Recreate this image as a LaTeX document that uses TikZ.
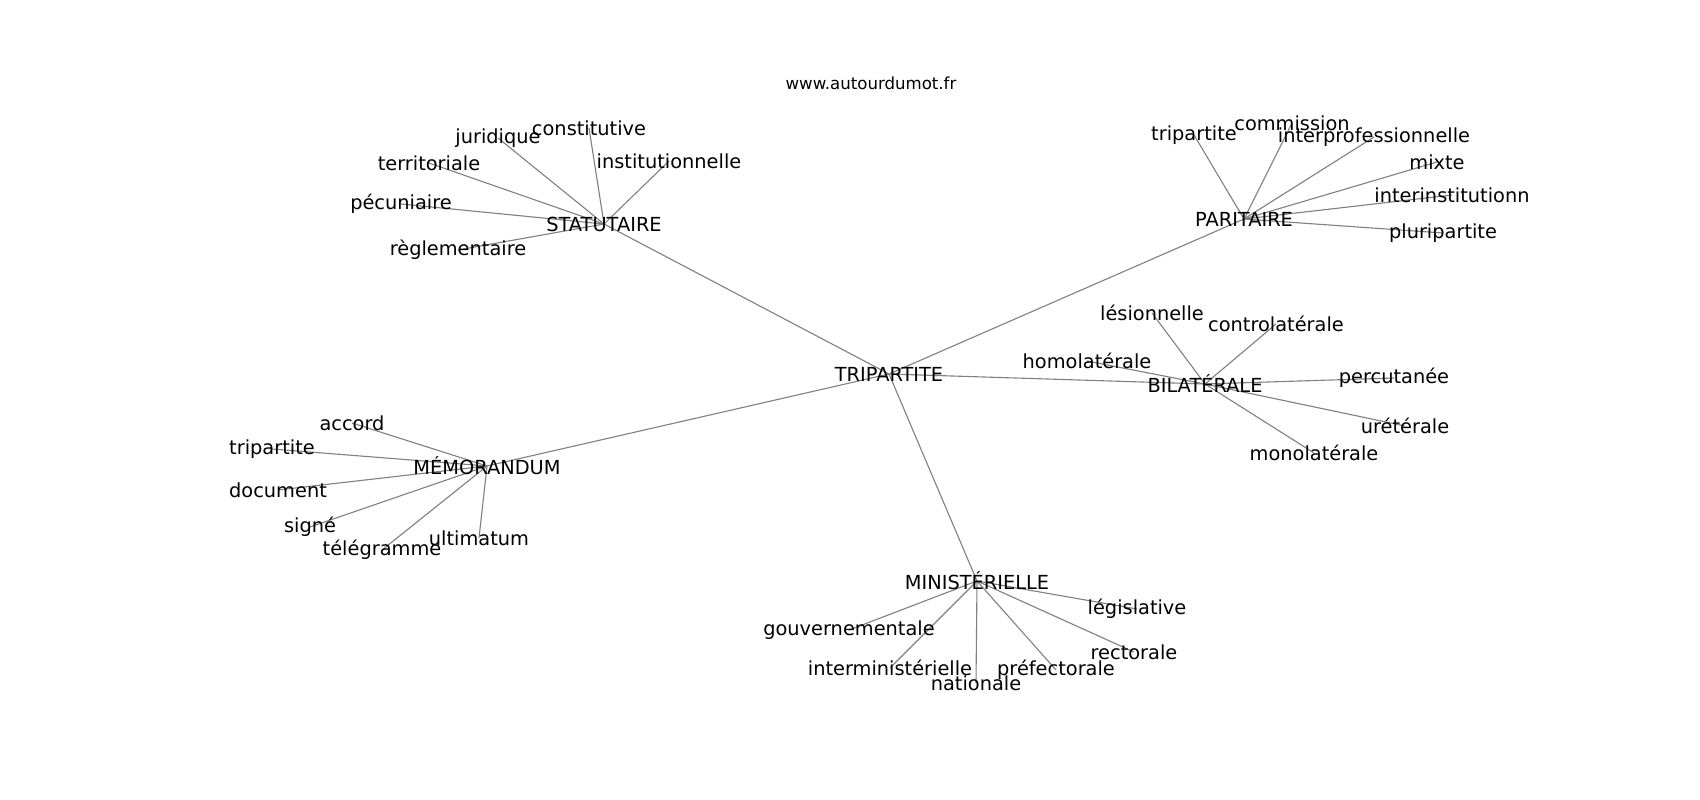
\documentclass[tikz,border=0pt]{standalone}
\usepackage{fontspec}
\setmainfont{DejaVu Sans}
\usetikzlibrary{backgrounds}

\begin{document}
\begin{tikzpicture}[x=0.0254cm,y=-0.0254cm,
    word/.style={inner sep=0pt,font=\fontsize{14}{16}\selectfont},
    link/.style={draw=linkgray,line width=0.8pt}]

    % Define colors
    \definecolor{linkgray}{RGB}{128,128,128}

    \useasboundingbox (0,0) rectangle (1700,800);

    \node[inner sep=0pt,font=\fontsize{12}{14}\selectfont] (site) at (871,83) {www.autourdumot.fr};

    %-------------
    % Centre and hubs
    \node[word] (tri) at (889,374) {TRIPARTITE};
    \node[word] (stat) at (604,224) {STATUTAIRE};
    \node[word] (pari) at (1244,219) {PARITAIRE};
    \node[word] (bila) at (1205,384) {BILATÉRALE};
    \node[word] (memo) at (487,466) {MÉMORANDUM};
    \node[word] (mini) at (977,581) {MINISTÉRIELLE};

    %-------------
    % STATUTAIRE
    \node[word] (s1) at (589,128) {constitutive};
    \node[word] (s2) at (498,138) {juridique};
    \node[word] (s3) at (429,163) {territoriale};
    \node[word] (s4) at (669,161) {institutionnelle};
    \node[word] (s5) at (401,204) {pécuniaire};
    \node[word] (s6) at (458,250) {règlementaire};

    %-------------
    % PARITAIRE
    \node[word] (p1) at (1194,135) {tripartite};
    \node[word] (p2) at (1292,123) {commission};
    \node[word] (p3) at (1374,137) {interprofessionnelle};
    \node[word] (p4) at (1437,162) {mixte};
    \node[word] (p5) at (1452,195) {interinstitutionn};
    \node[word] (p6) at (1443,233) {pluripartite};

    %-------------
    % BILATERALE
    \node[word] (b1) at (1152,313) {lésionnelle};
    \node[word] (b2) at (1276,324) {controlatérale};
    \node[word] (b3) at (1087,361) {homolatérale};
    \node[word] (b4) at (1394,378) {percutanée};
    \node[word] (b5) at (1405,426) {urétérale};
    \node[word] (b6) at (1314,453) {monolatérale};

    %-------------
    % MEMORANDUM
    \node[word] (m1) at (352,423) {accord};
    \node[word] (m2) at (272,449) {tripartite};
    \node[word] (m3) at (278,490) {document};
    \node[word] (m4) at (310,527) {signé};
    \node[word] (m5) at (382,550) {télégramme};
    \node[word] (m6) at (479,538) {ultimatum};

    %-------------
    % MINISTERIELLE
    \node[word] (n1) at (1137,609) {législative};
    \node[word] (n2) at (849,630) {gouvernementale};
    \node[word] (n3) at (1134,652) {rectorale};
    \node[word] (n4) at (890,668) {interministérielle};
    \node[word] (n5) at (1056,670) {préfectorale};
    \node[word] (n6) at (976,683) {nationale};

    %-------------
    % Links, behind the words
    \begin{pgfonlayer}{background}
    \foreach \hub in {stat,pari,bila,memo,mini}
        \draw[link] (tri.center) -- (\hub.center);
    \foreach \i in {1,...,6} {
        \draw[link] (stat.center) -- (s\i.center);
        \draw[link] (pari.center) -- (p\i.center);
        \draw[link] (bila.center) -- (b\i.center);
        \draw[link] (memo.center) -- (m\i.center);
        \draw[link] (mini.center) -- (n\i.center);
    }
    \end{pgfonlayer}

\end{tikzpicture}
\end{document}
